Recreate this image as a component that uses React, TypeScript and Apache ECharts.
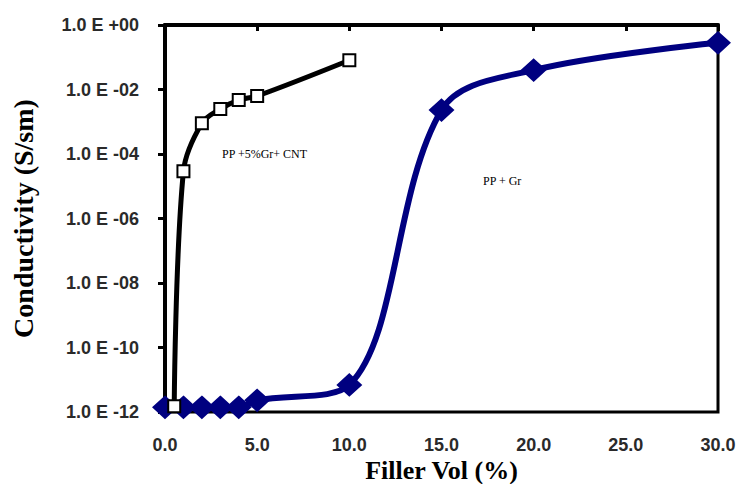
import React, { useEffect, useRef } from "react";
import * as echarts from "echarts";

// PP + Gr (navy, diamonds)
const fillerVolGr = [0, 1, 2, 3, 4, 5, 10, 15, 20, 30];
const conductivityGr = [1.4e-12, 1.4e-12, 1.4e-12, 1.4e-12, 1.4e-12, 2.3e-12, 6.9e-12, 2.3e-3, 4.0e-2, 2.8e-1];

// PP + 5%Gr + CNT (black, open squares)
const fillerVolCnt = [0.5, 1, 2, 3, 4, 5, 10];
const conductivityCnt = [1.5e-12, 2.9e-5, 9.0e-4, 2.5e-3, 4.7e-3, 6.3e-3, 8.1e-2];

const xTickLabels = ["0.0", "5.0", "10.0", "15.0", "20.0", "25.0", "30.0"];
const yTickLabels = ["1.0 E -12", "1.0 E -10", "1.0 E -08", "1.0 E -06", "1.0 E -04", "1.0 E -02", "1.0 E +00"];

const seriesNames = ["PP + Gr", "PP +5%Gr+ CNT"];

export default function App() {
  const ref = useRef<HTMLDivElement>(null);
  useEffect(() => {
    if (!ref.current) return;
    const chart = echarts.init(ref.current, undefined, { renderer: "svg" });
    const toPairs = (xs: number[], ys: number[]) => xs.map((x, i) => [x, Math.log10(ys[i])]);
    chart.setOption({
      animation: false,
      backgroundColor: "#ffffff",
      grid: {
        left: 165,
        right: 23,
        top: 25,
        bottom: 72,
        show: true,
        borderColor: "#000",
        borderWidth: 3,
        containLabel: false,
        outerBoundsMode: "none",
      },
      xAxis: {
        type: "value",
        min: 0,
        max: 30,
        interval: 5,
        name: "Filler Vol (%)",
        nameLocation: "middle",
        nameGap: 45,
        nameMoveOverlap: false,
        nameTextStyle: { fontFamily: "Liberation Serif", fontWeight: "bold", fontSize: 26, color: "#000" },
        axisLine: { show: true, lineStyle: { color: "#000", width: 4 } },
        axisTick: { show: true, inside: false, length: 6, lineStyle: { color: "#000", width: 3 } },
        axisLabel: {
          margin: 24,
          fontFamily: "Liberation Sans",
          fontWeight: "bold",
          fontSize: 18,
          color: "#2a2a2a",
          formatter: (v: number) => xTickLabels[Math.round(v / 5)] ?? "",
        },
        splitLine: { show: false },
      },
      yAxis: {
        type: "value",
        min: -12,
        max: 0,
        interval: 2,
        name: "Conductivity (S/sm)",
        nameLocation: "middle",
        nameGap: 128,
        nameMoveOverlap: false,
        nameTextStyle: { fontFamily: "Liberation Serif", fontWeight: "bold", fontSize: 28, color: "#000" },
        axisLine: { show: true, lineStyle: { color: "#000", width: 4 } },
        axisTick: { show: true, inside: false, length: 7, lineStyle: { color: "#000", width: 3 } },
        axisLabel: {
          margin: 26,
          fontFamily: "Liberation Sans",
          fontWeight: "bold",
          fontSize: 18,
          color: "#2a2a2a",
          formatter: (v: number) => yTickLabels[Math.round((v + 12) / 2)] ?? "",
        },
        splitLine: { show: false },
      },
      series: [
        {
          name: seriesNames[0],
          type: "line",
          data: toPairs(fillerVolGr, conductivityGr),
          smooth: 0.35,
          symbol: "diamond",
          symbolSize: [23, 21],
          clip: false,
          lineStyle: { color: "#000080", width: 6 },
          itemStyle: { color: "#000080", borderColor: "#000080", borderWidth: 2 },
          z: 3,
        },
        {
          name: seriesNames[1],
          type: "line",
          data: toPairs(fillerVolCnt, conductivityCnt),
          smooth: 0.35,
          symbol: "rect",
          symbolSize: 12,
          clip: false,
          lineStyle: { color: "#000", width: 5 },
          itemStyle: { color: "#fff", borderColor: "#000", borderWidth: 2 },
          z: 4,
        },
      ],
      graphic: [
        {
          type: "text",
          left: 222,
          top: 148,
          style: { text: seriesNames[1], font: "12px 'Liberation Serif'", fill: "#000" },
        },
        {
          type: "text",
          left: 483,
          top: 175,
          style: { text: seriesNames[0], font: "12px 'Liberation Serif'", fill: "#000" },
        },
      ],
    });
    return () => chart.dispose();
  }, []);
  return <div ref={ref} style={{ width: 741, height: 484, position: "absolute", left: 0, top: 0 }} />;
}
